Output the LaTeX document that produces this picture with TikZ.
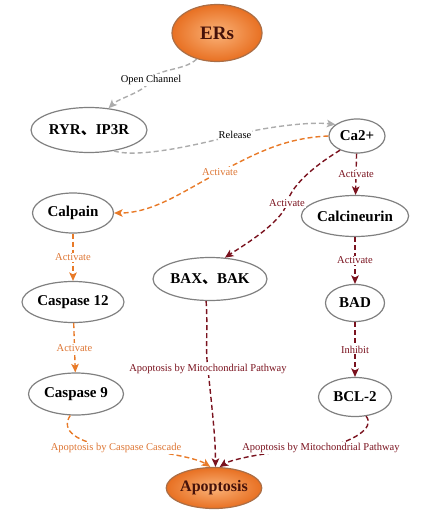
\documentclass[tikz,border=0pt]{standalone}
\usepackage{fontspec}
\setmainfont{Liberation Serif}
\newfontfamily\cjk{Noto Sans CJK SC}
\usetikzlibrary{shapes.geometric,arrows.meta}

\definecolor{nodegray}{RGB}{128,128,128}
\definecolor{edgegray}{RGB}{172,172,172}
\definecolor{orangeline}{RGB}{232,122,40}
\definecolor{orangetext}{RGB}{222,118,52}
\definecolor{darkred}{RGB}{122,18,30}
\definecolor{hubin}{RGB}{250,178,120}
\definecolor{hubout}{RGB}{232,112,34}
\definecolor{hubborder}{RGB}{170,110,70}
\definecolor{hubtext}{RGB}{70,18,10}

\tikzset{
  shape base/.style={ellipse, line width=1.2pt, inner sep=0pt,
    font=\fontsize{15}{18}\selectfont\bfseries},
  cell/.style={shape base, draw=nodegray, fill=white},
  hub/.style={shape base, draw=hubborder, inner color=hubin, outer color=hubout, text=hubtext},
  link/.style={dash pattern=on 5pt off 3pt, line width=1.4pt,
    -{Stealth[length=8.5pt,width=7.5pt,inset=2pt]}},
  lbl/.style={fill=white, inner sep=1pt, font=\fontsize{10.5}{12}\selectfont},
}

\begin{document}
\begin{tikzpicture}[x=1pt,y=-1pt]
  \useasboundingbox (0,0) rectangle (429,516);

  % uzly
  \node[hub, minimum width=90pt, minimum height=57pt, font=\fontsize{19}{22}\selectfont\bfseries] (ers) at (217,33) {ERs};
  \node[cell, minimum width=116pt, minimum height=45pt] (ryr) at (89,130) {RYR{\cjk 、}IP3R};
  \node[cell, minimum width=56pt, minimum height=34pt] (ca) at (357,136) {Ca2+};
  \node[cell, minimum width=81pt, minimum height=40pt] (calpain) at (73,213) {Calpain};
  \node[cell, minimum width=102pt, minimum height=41pt] (casp12) at (73,302) {Caspase 12};
  \node[cell, minimum width=95pt, minimum height=42pt] (casp9) at (76,394) {Caspase 9};
  \node[cell, minimum width=114pt, minimum height=43pt] (bax) at (210,279) {BAX{\cjk 、}BAK};
  \node[cell, minimum width=105pt, minimum height=41pt] (calc) at (355,216) {Calcineurin};
  \node[cell, minimum width=59pt, minimum height=37pt] (bad) at (355,303) {BAD};
  \node[cell, minimum width=73pt, minimum height=39pt] (bcl) at (355,397) {BCL-2};
  \node[hub, minimum width=92pt, minimum height=41pt, font=\fontsize{16}{19}\selectfont\bfseries] (apo) at (214,488) {Apoptosis};

  % sive hrany
  \draw[link, edgegray] (ers.232) .. controls +(-12,12) and +(6,-12) .. (151,80)
    node[lbl, text=black] {Open Channel}
    .. controls +(-6,12) and +(10,-10) .. (ryr.48);
  \draw[link, edgegray] (ryr.-40) .. controls +(25,8) and +(-30,8) .. (235,135)
    node[lbl, text=black] {Release}
    .. controls +(30,-8) and +(-25,-3) .. (ca.152);

  % oranzove hrany
  \draw[link, orangeline] (ca.180) .. controls +(-45,2) and +(35,-18) .. (220,172)
    node[lbl, text=orangetext] {Activate}
    .. controls +(-35,18) and +(40,0) .. (calpain.east);
  \draw[link, orangeline] (casp9.-105) .. controls +(-10,15) and +(-40,-5) .. (116,448)
    node[lbl, text=orangetext] {Apoptosis by Caspase Cascade}
    .. controls +(50,3) and +(-12,-8) .. (apo.100);

  % tmavocervene hrany
  \draw[link, darkred] (ca.-140) .. controls +(-20,12) and +(5,-20) .. (287,203)
    node[lbl, text=darkred] {Activate}
    .. controls +(-5,20) and +(15,-10) .. (bax.55);
  \draw[link, darkred] (bax.-100) .. controls +(2,30) and +(-3,-20) .. (208,369)
    node[lbl, text=darkred] {Apoptosis by Mitochondrial Pathway}
    .. controls +(4,40) and +(0,-30) .. (apo.86);
  \draw[link, darkred] (bcl.-60) .. controls +(10,12) and +(30,-5) .. (321,448)
    node[lbl, text=darkred] {Apoptosis by Mitochondrial Pathway}
    .. controls +(-50,3) and +(12,-8) .. (apo.75);

  % zvisle hrany
  \foreach \a/\b/\txt/\col/\tcol in {calpain/casp12/Activate/orangeline/orangetext,
      casp12/casp9/Activate/orangeline/orangetext, ca/calc/Activate/darkred/darkred,
      calc/bad/Activate/darkred/darkred, bad/bcl/Inhibit/darkred/darkred}
    \draw[link, \col] (\a) -- (\b) node[lbl, midway, text=\tcol] {\txt};
\end{tikzpicture}
\end{document}
